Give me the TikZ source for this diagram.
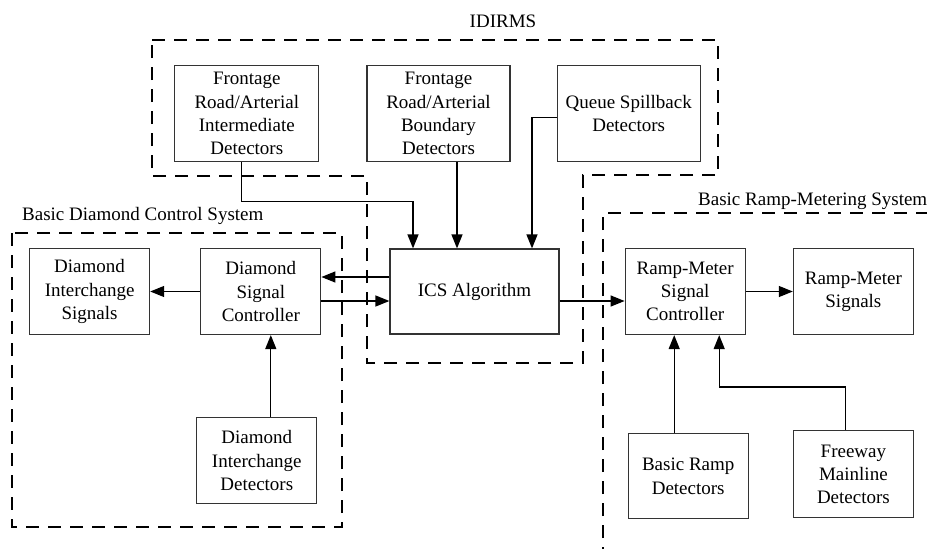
\documentclass[tikz,border=0pt]{standalone}
\usepackage{fontspec}
\setmainfont{Liberation Serif}
\usepackage{tikz}
\usetikzlibrary{arrows.meta, positioning}
\definecolor{boxline}{HTML}{333333}
\tikzstyle{block} = [rectangle, draw=boxline, line width=1.2pt, fill=white, align=center,
  minimum width=120pt, minimum height=86pt, inner sep=0pt, font=\fontsize{19}{23.3}\selectfont]
\tikzstyle{tag} = [inner sep=0pt, font=\fontsize{19}{23.3}\selectfont]
\tikzstyle{region} = [line width=2pt, dash pattern=on 13pt off 9pt]
\tikzstyle{arrow} = [line width=1.3pt, -{Triangle[length=14pt, width=11pt]}]

\begin{document}
\begin{tikzpicture}[x=1pt, y=1pt]
  \clip (0,0) rectangle (927,-549);

  % Dashed system outlines
  \draw[region] (152,-40) -- (718,-40) -- (718,-175) -- (583,-175) -- (583,-363)
    -- (367,-363) -- (367,-176) -- (152,-176) -- cycle;
  \draw[region] (12,-233) rectangle (342,-527);
  \draw[region] (603,-560) -- (603,-213) -- (940,-213);

  \node (idirms) [tag, anchor=base] at (503,-27) {IDIRMS};
  \node (bdcs) [tag, anchor=base west] at (22,-220) {Basic Diamond Control System};
  \node (brms) [tag, anchor=base west] at (698,-205) {Basic Ramp-Metering System};

  % Central block
  \node (ics) [block, minimum width=169pt, minimum height=85pt] at (474.5,-291.5) {ICS Algorithm};

  % Detectors on top
  \node (bound) [block, above=86pt of ics, xshift=-36pt, minimum width=143pt, minimum height=96pt]
    {Frontage\\Road/Arterial\\Boundary\\Detectors};
  \node (inter) [block, left=47pt of bound, minimum width=144pt, minimum height=96pt]
    {Frontage\\Road/Arterial\\Intermediate\\Detectors};
  \node (queue) [block, right=46pt of bound, minimum width=143pt, minimum height=96pt]
    {Queue Spillback\\Detectors};

  % Diamond interchange side
  \node (dsc) [block, left=68pt of ics] {Diamond\\Signal\\Controller};
  \node (dis) [block, left=50pt of dsc] {Diamond\\Interchange\\Signals};
  \node (did) [block, below=82pt of dsc, xshift=-4pt] {Diamond\\Interchange\\Detectors};

  % Ramp-metering side
  \node (rmsc) [block, right=65pt of ics] {Ramp-Meter\\Signal\\Controller};
  \node (rms) [block, right=47pt of rmsc] {Ramp-Meter\\Signals};
  \node (brd) [block, below=98pt of rmsc, xshift=3pt, minimum height=85pt] {Basic Ramp\\Detectors};
  \node (fmd) [block, below=95pt of rms, minimum height=87pt] {Freeway\\Mainline\\Detectors};

  % Inputs to the algorithm
  \draw[arrow] ([xshift=-5pt]inter.south) -- ++(0,-39) -| ([xshift=-61.5pt]ics.north);
  \draw[arrow] ([xshift=-17.5pt]ics.north |- bound.south) -- ([xshift=-17.5pt]ics.north);
  \draw[arrow] ([yshift=-4pt]queue.west) -| ([xshift=57.5pt]ics.north);

  % Controller links
  \draw[arrow] ([yshift=14.5pt]ics.west) -- ([yshift=14.5pt]ics.west -| dsc.east);
  \draw[arrow] ([yshift=-9.5pt]ics.west -| dsc.east) -- ([yshift=-9.5pt]ics.west);
  \draw[arrow] ([yshift=-9.5pt]ics.east) -- ([yshift=-9.5pt]ics.east -| rmsc.west);
  \draw[arrow] (dsc) -- (dis);
  \draw[arrow] ([xshift=10pt]dsc.south |- did.north) -- ([xshift=10pt]dsc.south);
  \draw[arrow] (rmsc) -- (rms);
  \draw[arrow] ([xshift=-14pt]brd.north) -- ([xshift=-14pt]brd.north |- rmsc.south);
  \draw[arrow] ([xshift=-8pt]fmd.north) -- ++(0,43) -| ([xshift=34pt]rmsc.south);
\end{tikzpicture}
\end{document}
